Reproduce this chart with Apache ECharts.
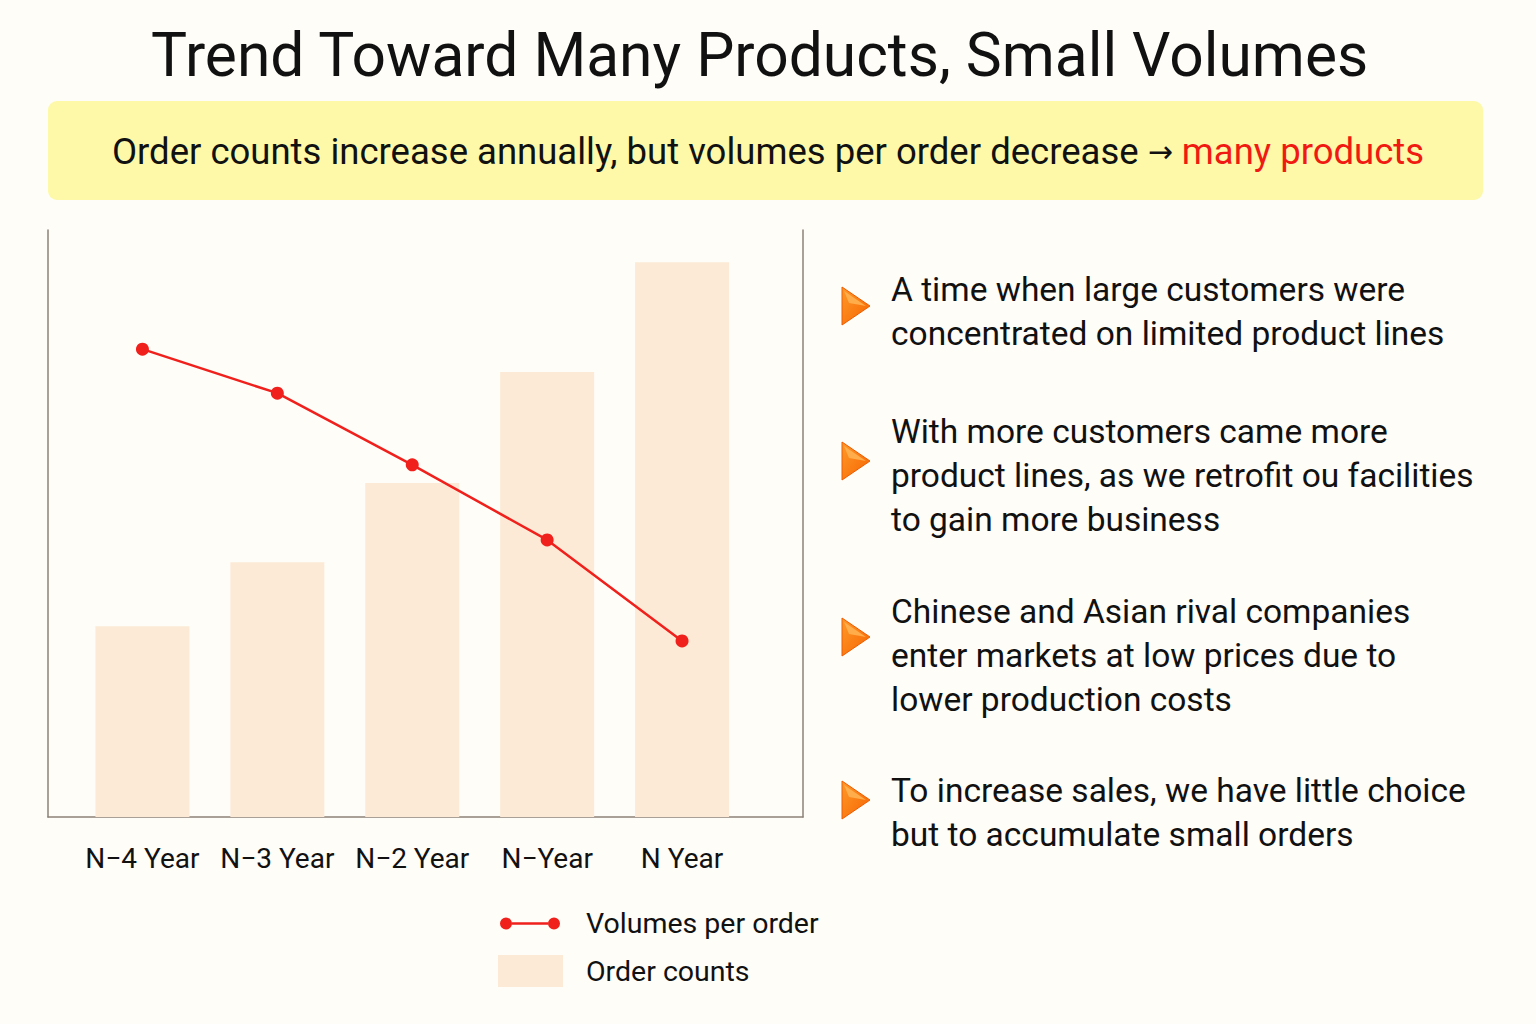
<!DOCTYPE html>
<html>
<head>
<meta charset="utf-8">
<title>Trend Toward Many Products, Small Volumes</title>
<script src="https://cdn.jsdelivr.net/npm/echarts@6/dist/echarts.min.js"></script>
<style>
  html, body { margin: 0; padding: 0; background: #fffdf8; }
  #chart { width: 1536px; height: 1024px; }
</style>
</head>
<body>
<div id="chart"></div>
<script>
// categories on the x axis
var years = ['N\u22124 Year', 'N\u22123 Year', 'N\u22122 Year', 'N\u2212Year', 'N Year'];
// bar heights (index, axis 0..100)
var orderCounts = [32.5, 43.4, 56.9, 75.8, 94.5];
// line values (index, axis 0..100)
var volumesPerOrder = [79.7, 72.2, 60.0, 47.2, 30.0];

var titleText = 'Trend Toward Many Products, Small Volumes';
var bannerText = 'Order counts increase annually, but volumes per order decrease ';
var bannerArrow = '\u2192';
var bannerHighlight = 'many products';

var bullets = [
  'A time when large customers were\nconcentrated on limited product lines',
  'With more customers came more\nproduct lines, as we retrofit ou facilities\nto gain more business',
  'Chinese and Asian rival companies\nenter markets at low prices due to\nlower production costs',
  'To increase sales, we have little choice\nbut to accumulate small orders'
];

var FONT = 'Roboto, "Noto Sans", sans-serif';
var axisColor = '#8d8178';
var barColor = '#fdead6';
var lineColor = '#f0201c';

// text block tops and bullet centers on the right side
var blockTops = [267, 409, 589, 768];
var markerCenters = [306, 461, 637, 800];

function bulletMarker(cy) {
  return {
    type: 'group',
    children: [
      {
        type: 'polygon',
        shape: { points: [[842, cy - 19], [870, cy], [842, cy + 19]] },
        style: {
          fill: new echarts.graphic.LinearGradient(0, 0, 1, 1, [
            { offset: 0, color: '#ff9a2a' },
            { offset: 1, color: '#f56400' }
          ]),
          stroke: '#f05a00',
          lineWidth: 1
        }
      },
      {
        type: 'polygon',
        shape: { points: [[844, cy - 15], [866, cy], [849, cy - 3]] },
        style: { fill: '#ffb455', opacity: 0.85 }
      }
    ]
  };
}

var graphics = [
  {
    type: 'rect',
    shape: { x: 48, y: 101, width: 1435, height: 99, r: 9 },
    style: { fill: '#fdf9a8' },
    z: -1
  },
  {
    type: 'text',
    x: 768,
    y: 151,
    style: {
      text: '{a|' + bannerText + '}{c|' + bannerArrow + '}{a| }{b|' + bannerHighlight + '}',
      align: 'center',
      verticalAlign: 'middle',
      rich: {
        a: { fontSize: 36.5, fontFamily: FONT, fill: '#111' },
        c: { fontSize: 30, fontFamily: '"DejaVu Sans", sans-serif', fill: '#111' },
        b: { fontSize: 36.5, fontFamily: FONT, fill: '#f01a12' }
      }
    }
  }
];

bullets.forEach(function (txt, i) {
  graphics.push(bulletMarker(markerCenters[i]));
  graphics.push({
    type: 'text',
    x: 891,
    y: blockTops[i],
    style: {
      text: txt,
      fontSize: 33.5,
      lineHeight: 44,
      fontFamily: FONT,
      fill: '#111',
      verticalAlign: 'top'
    }
  });
});

// icon for the line legend: a segment with a dot at each end
var lineIcon = 'path://M0,6A6,6 0 1,0 12,6A6,6 0 1,0 0,6Z' +
  'M48,6A6,6 0 1,0 60,6A6,6 0 1,0 48,6Z' +
  'M11.9,4.8L48.1,4.8L48.1,7.2L11.9,7.2Z';

var option = {
  backgroundColor: '#fffdf8',
  animation: false,
  title: {
    text: titleText,
    left: 146,
    top: 20,
    textStyle: { fontSize: 60.5, fontWeight: 'normal', color: '#111', fontFamily: FONT }
  },
  legend: [
    {
      data: [{ name: 'Volumes per order', icon: lineIcon }],
      left: 500,
      top: 909,
      orient: 'vertical',
      padding: 0,
      itemWidth: 60,
      itemHeight: 12,
      itemStyle: { borderWidth: 0 },
      textStyle: { fontSize: 28.5, color: '#111', fontFamily: FONT, padding: [0, 0, 0, 21] }
    },
    {
      data: [{ name: 'Order counts', icon: 'rect' }],
      left: 498,
      top: 955,
      orient: 'vertical',
      padding: 0,
      itemWidth: 65,
      itemHeight: 32,
      itemStyle: { borderWidth: 0 },
      textStyle: { fontSize: 28.5, color: '#111', fontFamily: FONT, padding: [0, 0, 0, 18] }
    }
  ],
  grid: [
    // frame
    { left: 48, right: 733, top: 230, bottom: 207 },
    // data
    { left: 75, right: 786.5, top: 230, bottom: 207 }
  ],
  xAxis: [
    {
      gridIndex: 0,
      type: 'value',
      min: 0,
      max: 1,
      axisLine: { show: true, lineStyle: { color: axisColor, width: 1.5 } },
      axisTick: { show: false },
      axisLabel: { show: false },
      splitLine: { show: false }
    },
    {
      gridIndex: 1,
      type: 'category',
      data: years,
      axisLine: { show: false },
      axisTick: { show: false },
      axisLabel: { interval: 0, fontSize: 28, color: '#111', fontFamily: FONT, margin: 27 }
    }
  ],
  yAxis: [
    {
      gridIndex: 0,
      type: 'value',
      min: 0,
      max: 1,
      axisLine: { show: true, lineStyle: { color: axisColor, width: 1.5 } },
      axisTick: { show: false },
      axisLabel: { show: false },
      splitLine: { show: false }
    },
    {
      gridIndex: 0,
      type: 'value',
      position: 'right',
      min: 0,
      max: 1,
      axisLine: { show: true, lineStyle: { color: axisColor, width: 1.5 } },
      axisTick: { show: false },
      axisLabel: { show: false },
      splitLine: { show: false }
    },
    {
      gridIndex: 1,
      type: 'value',
      min: 0,
      max: 100,
      show: false
    },
    {
      gridIndex: 1,
      type: 'value',
      min: 0,
      max: 100,
      show: false
    }
  ],
  series: [
    {
      name: 'Order counts',
      type: 'bar',
      xAxisIndex: 1,
      yAxisIndex: 2,
      barWidth: 94,
      data: orderCounts,
      itemStyle: { color: barColor },
      z: 1
    },
    {
      name: 'Volumes per order',
      type: 'line',
      xAxisIndex: 1,
      yAxisIndex: 3,
      data: volumesPerOrder,
      symbol: 'circle',
      symbolSize: 13,
      lineStyle: { color: lineColor, width: 2.5 },
      itemStyle: { color: lineColor },
      z: 3
    }
  ],
  graphic: graphics
};

var myChart = echarts.init(document.getElementById('chart'), null, { renderer: 'svg' });
myChart.setOption(option);
</script>
</body>
</html>
